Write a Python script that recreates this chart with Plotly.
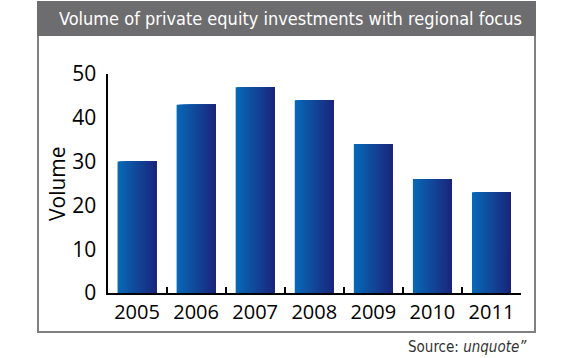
import plotly.graph_objects as go

years = ["2005", "2006", "2007", "2008", "2009", "2010", "2011"]
volumes = [30, 43, 47, 44, 34, 26, 23]
y_ticks = [0, 10, 20, 30, 40, 50]

W, H = 580, 358
def px(x): return x / W
def py(y): return 1 - y / H

# horizontal gradient via overlaid bar strips, each reaching the right edge
n = 24
bar_w = 0.66
c0 = (8, 104, 182)
c1 = (26, 38, 124)
fig = go.Figure()
for i in range(n):
    t = i / (n - 1)
    col = "rgb(%d,%d,%d)" % tuple(round(a + (b - a) * t) for a, b in zip(c0, c1))
    sw = bar_w / n
    fig.add_trace(go.Bar(
        x=years, y=volumes,
        width=bar_w - i * sw, offset=-bar_w / 2 + i * sw,
        marker=dict(color=col, line=dict(width=0)),
        showlegend=False, hoverinfo="skip",
    ))

font_main = "Open Sans, Noto Sans, sans-serif"
font_cond = "DejaVu Sans Condensed, sans-serif"

fig.update_layout(
    width=W, height=H, autosize=False,
    margin=dict(l=0, r=0, t=0, b=0, pad=0, autoexpand=False),
    paper_bgcolor="white", plot_bgcolor="white",
    barmode="overlay", showlegend=False,
    xaxis=dict(
        domain=[px(107.5), px(521)],
        type="category", range=[-0.5, 6.5], automargin=False,
        showline=True, linecolor="black", linewidth=2,
        ticks="inside", tickson="boundaries", ticklen=6, tickwidth=1.5, tickcolor="black",
        tickfont=dict(family=font_main, size=20, color="black"),
        showgrid=False, zeroline=False, fixedrange=True,
    ),
    yaxis=dict(
        domain=[py(293), py(74)], automargin=False,
        range=[0, 50], tickvals=y_ticks,
        showline=True, linecolor="black", linewidth=2,
        ticks="", ticklabelstandoff=5,
        tickfont=dict(family=font_main, size=21, color="black"),
        showgrid=False, zeroline=False, fixedrange=True,
    ),
    shapes=[
        dict(type="rect", xref="paper", yref="paper",
             x0=px(38), x1=px(535), y0=py(332), y1=py(2),
             line=dict(color="#808080", width=2), fillcolor="rgba(0,0,0,0)", layer="below"),
        dict(type="rect", xref="paper", yref="paper",
             x0=px(37), x1=px(536), y0=py(36), y1=py(1),
             line=dict(width=0), fillcolor="#6d6d6f", layer="below"),
    ],
    annotations=[
        dict(text="Volume of private equity investments with regional focus",
             xref="paper", yref="paper", x=px(524), y=py(18.5),
             xanchor="right", yanchor="middle", showarrow=False,
             font=dict(family=font_cond, size=18, color="white")),
        dict(text="Volume", xref="paper", yref="paper", x=px(57), y=py(184),
             xanchor="center", yanchor="middle", textangle=-90, showarrow=False,
             font=dict(family=font_main, size=21, color="black")),
        dict(text="Source: <i>unquote\u201d</i>", xref="paper", yref="paper",
             x=px(529), y=py(347), xanchor="right", yanchor="middle", showarrow=False,
             font=dict(family=font_cond, size=15, color="#333333")),
    ],
)

fig.write_html("out.html", config={"displayModeBar": False},
               post_script="document.body.style.margin='0';")
